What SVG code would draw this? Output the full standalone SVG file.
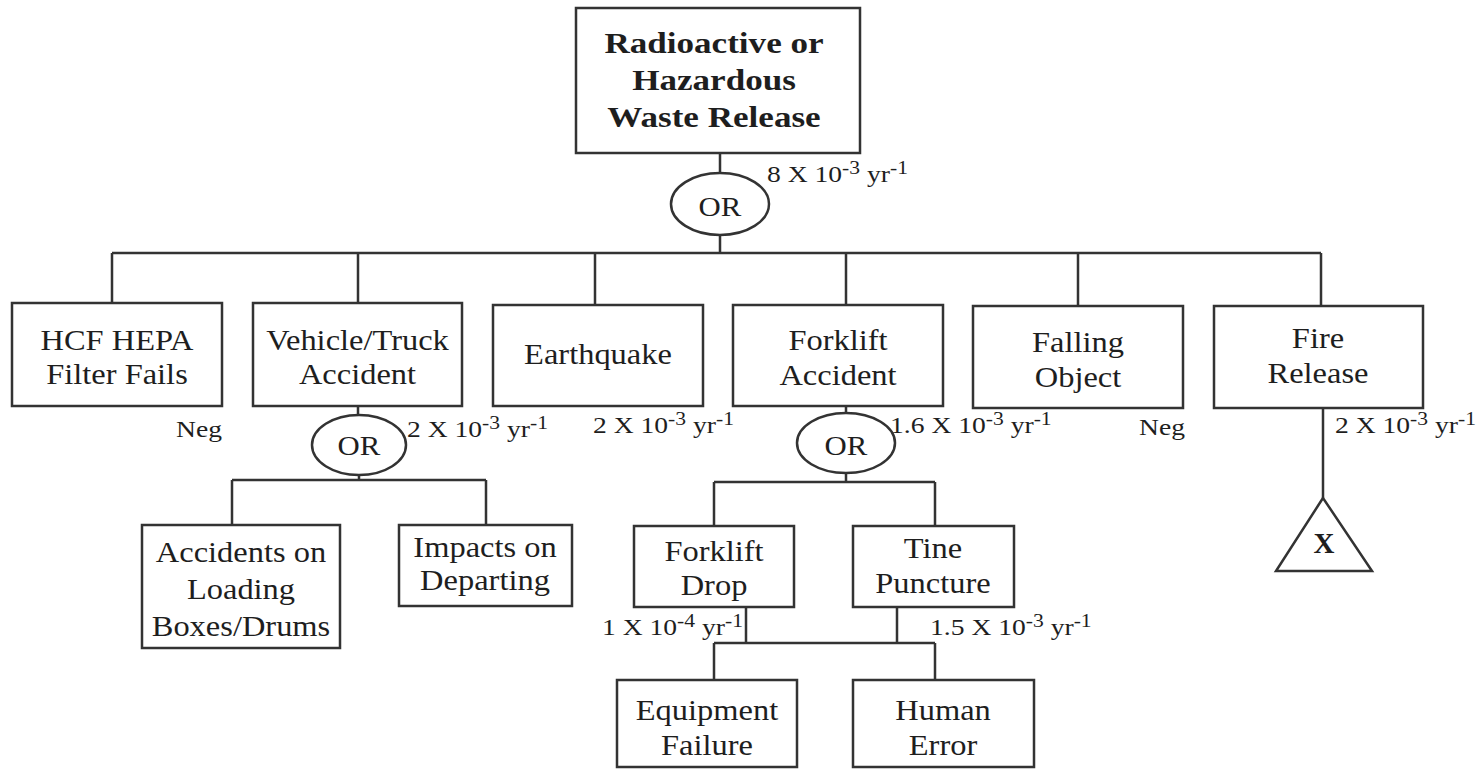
<svg xmlns="http://www.w3.org/2000/svg" width="1482" height="771" viewBox="0 0 1482 771">
<style>
.box{fill:#fff;stroke:#333;stroke-width:2.5}
.ln{stroke:#333;stroke-width:2.5;fill:none}
.t{font-family:"Liberation Serif","Times New Roman",serif;font-size:29px;fill:#1e1e1e;text-anchor:middle}
.b{font-family:"Liberation Serif","Times New Roman",serif;font-size:30px;font-weight:bold;fill:#1e1e1e;text-anchor:middle}
.or{font-family:"Liberation Serif","Times New Roman",serif;font-size:28px;fill:#1e1e1e;text-anchor:middle}
.r{font-family:"Liberation Serif","Times New Roman",serif;font-size:23px;fill:#1e1e1e;text-anchor:start}
.neg{font-family:"Liberation Serif","Times New Roman",serif;font-size:23px;fill:#1e1e1e;text-anchor:end}
.s{font-size:18px}
</style>
<rect width="1482" height="771" fill="#fff"/>
<g id="connectors">
<path class="ln" d="M720,153V173M720,235V253M112,253H1321M112,253V303M358,253V303M595,253V305M846,253V305M1078,253V306M1321,253V306"/>
<path class="ln" d="M358,406V415M359,475V480M232,480H486M232,480V525M486,480V525"/>
<path class="ln" d="M846,406V413M846,473V482M714,482H935M714,482V526M935,482V526"/>
<path class="ln" d="M746,607V643M897,607V643M714,643H935M714,643V680M935,643V680"/>
<path class="ln" d="M1323,408V498"/>
</g>
<g id="top">
<rect class="box" x="576" y="8" width="284" height="145"/>
<text class="b" transform="translate(714 53) scale(1.17 1)"><tspan x="0">Radioactive or</tspan><tspan x="0" dy="37">Hazardous</tspan><tspan x="0" dy="37">Waste Release</tspan></text>
</g>
<g id="gate-top">
<ellipse class="box" cx="720" cy="204" rx="49" ry="31"/>
<text class="or" transform="translate(720 216) scale(1.1 1)">OR</text>
<text class="r" transform="translate(767 182) scale(1.2 1)">8 X 10<tspan class="s" dy="-8">-3</tspan><tspan dy="8"> yr</tspan><tspan class="s" dy="-8">-1</tspan></text>
</g>
<g id="hcf">
<rect class="box" x="12" y="303" width="210" height="103"/>
<text class="t" transform="translate(117 350) scale(1.12 1)"><tspan x="0">HCF HEPA</tspan><tspan x="0" dy="34">Filter Fails</tspan></text>
<text class="neg" transform="translate(222 437) scale(1.2 1)">Neg</text>
</g>
<g id="vehicle">
<rect class="box" x="253" y="303" width="209" height="103"/>
<text class="t" transform="translate(357.5 350) scale(1.12 1)"><tspan x="0">Vehicle/Truck</tspan><tspan x="0" dy="34">Accident</tspan></text>
<text class="r" transform="translate(407 437) scale(1.2 1)">2 X 10<tspan class="s" dy="-8">-3</tspan><tspan dy="8"> yr</tspan><tspan class="s" dy="-8">-1</tspan></text>
</g>
<g id="gate-vehicle">
<ellipse class="box" cx="359" cy="445" rx="47" ry="30"/>
<text class="or" transform="translate(359 455) scale(1.1 1)">OR</text>
</g>
<g id="earthquake">
<rect class="box" x="493" y="305" width="210" height="101"/>
<text class="t" transform="translate(598 364) scale(1.12 1)">Earthquake</text>
<text class="r" transform="translate(593 433) scale(1.2 1)">2 X 10<tspan class="s" dy="-8">-3</tspan><tspan dy="8"> yr</tspan><tspan class="s" dy="-8">-1</tspan></text>
</g>
<g id="forklift-accident">
<rect class="box" x="733" y="305" width="210" height="101"/>
<text class="t" transform="translate(838 350) scale(1.12 1)"><tspan x="0">Forklift</tspan><tspan x="0" dy="35">Accident</tspan></text>
<text class="r" transform="translate(890 433) scale(1.2 1)">1.6 X 10<tspan class="s" dy="-8">-3</tspan><tspan dy="8"> yr</tspan><tspan class="s" dy="-8">-1</tspan></text>
</g>
<g id="gate-forklift">
<ellipse class="box" cx="846" cy="443" rx="49" ry="30"/>
<text class="or" transform="translate(846 455) scale(1.1 1)">OR</text>
</g>
<g id="falling">
<rect class="box" x="973" y="306" width="210" height="102"/>
<text class="t" transform="translate(1078 352) scale(1.12 1)"><tspan x="0">Falling</tspan><tspan x="0" dy="35">Object</tspan></text>
<text class="neg" transform="translate(1185 435) scale(1.2 1)">Neg</text>
</g>
<g id="fire">
<rect class="box" x="1214" y="306" width="209" height="102"/>
<text class="t" transform="translate(1318 348) scale(1.12 1)"><tspan x="0">Fire</tspan><tspan x="0" dy="35">Release</tspan></text>
<text class="r" transform="translate(1335 433) scale(1.2 1)">2 X 10<tspan class="s" dy="-8">-3</tspan><tspan dy="8"> yr</tspan><tspan class="s" dy="-8">-1</tspan></text>
</g>
<g id="transfer-x">
<polygon class="box" points="1323,498 1276,571 1372,571"/>
<text class="b" x="1324" y="553" style="font-size:29px">X</text>
</g>
<g id="accidents-loading">
<rect class="box" x="142" y="525" width="198" height="123"/>
<text class="t" transform="translate(241 562) scale(1.12 1)"><tspan x="0">Accidents on</tspan><tspan x="0" dy="37">Loading</tspan><tspan x="0" dy="37">Boxes/Drums</tspan></text>
</g>
<g id="impacts">
<rect class="box" x="399" y="525" width="173" height="81"/>
<text class="t" transform="translate(485 557) scale(1.12 1)"><tspan x="0">Impacts on</tspan><tspan x="0" dy="33">Departing</tspan></text>
</g>
<g id="forklift-drop">
<rect class="box" x="634" y="526" width="160" height="81"/>
<text class="t" transform="translate(714 561) scale(1.12 1)"><tspan x="0">Forklift</tspan><tspan x="0" dy="34">Drop</tspan></text>
<text class="r" transform="translate(602 635) scale(1.2 1)">1 X 10<tspan class="s" dy="-8">-4</tspan><tspan dy="8"> yr</tspan><tspan class="s" dy="-8">-1</tspan></text>
</g>
<g id="tine-puncture">
<rect class="box" x="853" y="526" width="161" height="81"/>
<text class="t" transform="translate(933 558) scale(1.12 1)"><tspan x="0">Tine</tspan><tspan x="0" dy="35">Puncture</tspan></text>
<text class="r" transform="translate(930 635) scale(1.2 1)">1.5 X 10<tspan class="s" dy="-8">-3</tspan><tspan dy="8"> yr</tspan><tspan class="s" dy="-8">-1</tspan></text>
</g>
<g id="equipment">
<rect class="box" x="617" y="680" width="180" height="87"/>
<text class="t" transform="translate(707 720) scale(1.12 1)"><tspan x="0">Equipment</tspan><tspan x="0" dy="35">Failure</tspan></text>
</g>
<g id="human">
<rect class="box" x="853" y="680" width="181" height="87"/>
<text class="t" transform="translate(943 720) scale(1.12 1)"><tspan x="0">Human</tspan><tspan x="0" dy="35">Error</tspan></text>
</g>
</svg>
